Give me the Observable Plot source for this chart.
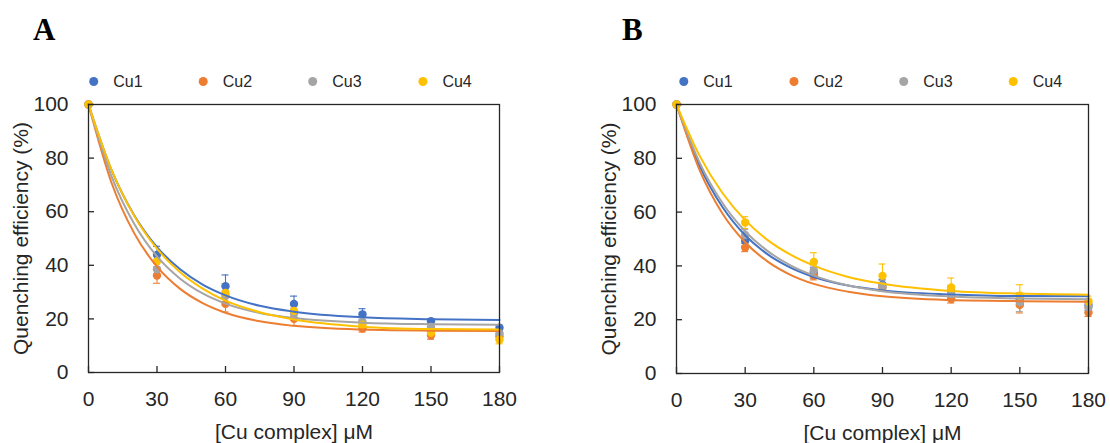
<!DOCTYPE html>
<html><head><meta charset="utf-8">
<script src="https://cdn.jsdelivr.net/npm/d3@7"></script>
<script src="https://cdn.jsdelivr.net/npm/@observablehq/plot@0.6"></script>
<style>
body{margin:0;background:#fff;}
#wrap{position:relative;width:1110px;height:443px;font-family:"Liberation Sans",Arial,sans-serif;background:#fff;overflow:hidden;}
.panel{position:absolute;top:0;}
#overlay{position:absolute;left:0;top:0;}
</style></head><body><div id="wrap"></div>
<script>
// ---------- data ----------
const concentrations = [0, 30, 60, 90, 120, 150, 180];
const seriesNames = ["Cu1", "Cu2", "Cu3", "Cu4"];
const seriesColors = ["#4472C4", "#ED7D31", "#A5A5A5", "#FFC000"];
const xTicks = [0, 30, 60, 90, 120, 150, 180];
const yTicks = [0, 20, 40, 60, 80, 100];
const panelLabels = ["A", "B"];
const xTitle = "[Cu complex] μM";
const yTitle = "Quenching efficiency (%)";

// Panel A: measured means and error bars
const a_Cu1 = [100, 43.9, 32.2, 25.6, 21.7, 19.1, 16.7];
const a_Cu2 = [100, 36.2, 25.6, 20.0, 16.4, 13.9, 13.5];
const a_Cu3 = [100, 38.5, 28.5, 22.0, 18.8, 17.0, 14.6];
const a_Cu4 = [100, 41.5, 29.7, 23.0, 17.8, 14.8, 12.2];
const a_err_Cu1 = [0, 3.2, 4.2, 2.9, 2.1, 1.0, 1.0];
const a_err_Cu2 = [0, 2.9, 3.0, 2.5, 1.3, 1.5, 1.0];
const a_err_Cu3 = [0, 2.5, 2.0, 2.0, 1.5, 1.0, 1.0];
const a_err_Cu4 = [0, 2.0, 3.5, 2.0, 1.5, 1.0, 1.5];

// Panel B: measured means and error bars
const b_Cu1 = [100, 49.3, 37.5, 33.0, 30.5, 27.5, 25.5];
const b_Cu2 = [100, 46.8, 36.3, 32.0, 27.7, 25.5, 22.7];
const b_Cu3 = [100, 51.5, 38.3, 32.6, 29.5, 26.5, 24.6];
const b_Cu4 = [100, 56.1, 41.5, 36.3, 32.0, 28.9, 26.8];
const b_err_Cu1 = [0, 2, 2, 2, 2, 2, 2];
const b_err_Cu2 = [0, 1.5, 1.5, 1.5, 1.5, 3, 1.5];
const b_err_Cu3 = [0, 2, 2, 2, 2, 3.5, 2];
const b_err_Cu4 = [0, 2.2, 3.4, 4.4, 3.5, 4.1, 2];

// Fitted curves
const fitX = [0, 10, 20, 30, 40, 50, 60, 75, 90, 120, 150, 180];
const a_fit_Cu1 = [100, 75.7, 58.7, 46.8, 38.6, 32.8, 28.8, 24.9, 22.7, 20.6, 19.9, 19.6];
const a_fit_Cu2 = [100, 71.0, 52.0, 39.5, 31.3, 25.9, 22.3, 19.1, 17.4, 16.0, 15.6, 15.5];
const a_fit_Cu3 = [100, 73.4, 55.5, 43.3, 35.1, 29.5, 25.7, 22.2, 20.3, 18.6, 18.0, 17.8];
const a_fit_Cu4 = [100, 75.8, 58.5, 46.2, 37.5, 31.3, 26.8, 22.5, 19.8, 17.1, 16.2, 16.0];
const b_fit_Cu1 = [100, 77.4, 62.0, 51.4, 44.2, 39.3, 35.9, 32.7, 30.9, 29.4, 28.8, 28.7];
const b_fit_Cu2 = [100, 75.8, 59.6, 48.8, 41.5, 36.6, 33.3, 30.4, 28.7, 27.3, 26.9, 26.7];
const b_fit_Cu3 = [100, 78.6, 63.5, 52.9, 45.4, 40.1, 36.4, 32.7, 30.6, 28.6, 27.9, 27.6];
const b_fit_Cu4 = [100, 81.1, 67.2, 57.0, 49.5, 44.1, 40.1, 35.9, 33.4, 30.7, 29.7, 29.3];

// ---------- build tables ----------
function buildPoints(means, errs) {
  const out = [];
  seriesNames.forEach((s, i) => {
    concentrations.forEach((x, j) => {
      out.push({series: s, x, y: means[i][j], e: errs[i][j], lo: means[i][j] - errs[i][j], hi: means[i][j] + errs[i][j]});
    });
  });
  return out;
}
function buildFits(fits) {
  const out = [];
  seriesNames.forEach((s, i) => fitX.forEach((x, j) => out.push({series: s, x, y: fits[i][j]})));
  return out;
}
const panels = [
  {
    points: buildPoints([a_Cu1, a_Cu2, a_Cu3, a_Cu4], [a_err_Cu1, a_err_Cu2, a_err_Cu3, a_err_Cu4]),
    fits: buildFits([a_fit_Cu1, a_fit_Cu2, a_fit_Cu3, a_fit_Cu4]),
    left: 0, mLeft: 88, mRight: 56, mTop: 104, mBottom: 71
  },
  {
    points: buildPoints([b_Cu1, b_Cu2, b_Cu3, b_Cu4], [b_err_Cu1, b_err_Cu2, b_err_Cu3, b_err_Cu4]),
    fits: buildFits([b_fit_Cu1, b_fit_Cu2, b_fit_Cu3, b_fit_Cu4]),
    left: 555, mLeft: 121, mRight: 22, mTop: 104, mBottom: 70
  }
];

const wrap = document.getElementById("wrap");
const ink = "#262626";

panels.forEach(p => {
  const errPts = p.points.filter(d => d.e > 0);
  const chart = Plot.plot({
    width: 555, height: 443,
    marginLeft: p.mLeft, marginRight: p.mRight, marginTop: p.mTop, marginBottom: p.mBottom,
    style: {fontFamily: "'Liberation Sans', Arial, sans-serif", fontSize: "21px", color: ink, background: "transparent", overflow: "visible"},
    x: {domain: [0, 180]},
    y: {domain: [0, 100]},
    color: {domain: seriesNames, range: seriesColors},
    marks: [
      Plot.ruleX(errPts, {x: "x", y1: "lo", y2: "hi", stroke: "series", strokeWidth: 1.1}),
      Plot.ruleY(errPts, {y: "hi", x1: "x", x2: "x", insetLeft: -3.5, insetRight: -3.5, stroke: "series", strokeWidth: 1.1}),
      Plot.ruleY(errPts, {y: "lo", x1: "x", x2: "x", insetLeft: -3.5, insetRight: -3.5, stroke: "series", strokeWidth: 1.1}),
      Plot.dot(p.points, {x: "x", y: "y", fill: "series", r: 4.2}),
      Plot.line(p.fits, {x: "x", y: "y", z: "series", stroke: "series", strokeWidth: 2, curve: "monotone-x"}),
      Plot.frame({stroke: ink, strokeWidth: 1.3}),
      Plot.axisY({ticks: yTicks, tickSize: 6, dx: 6, tickFormat: () => "", label: null, stroke: ink, strokeWidth: 1.3}),
      Plot.axisX({ticks: xTicks, tickSize: 6, dy: -6, tickFormat: () => "", label: null, stroke: ink, strokeWidth: 1.3}),
      Plot.axisY({ticks: yTicks, tickSize: 0, tickPadding: 20, fontSize: 21, fill: ink,
        label: yTitle, labelAnchor: "center", labelOffset: 75, labelArrow: "none"}),
      Plot.axisX({ticks: xTicks, tickSize: 0, tickPadding: 19, fontSize: 21, fill: ink,
        label: xTitle, labelAnchor: "center", labelOffset: 66, labelArrow: "none"})
    ]
  });
  chart.classList.add("panel");
  chart.style.left = p.left + "px";
  wrap.appendChild(chart);
});

// ---------- overlay: panel letters and legends ----------
const ns = "http://www.w3.org/2000/svg";
const ov = document.createElementNS(ns, "svg");
ov.setAttribute("id", "overlay");
ov.setAttribute("width", 1110);
ov.setAttribute("height", 443);
wrap.appendChild(ov);
const letterPos = [[33, 39.5], [622, 40]];
panelLabels.forEach((t, i) => {
  const el = document.createElementNS(ns, "text");
  el.setAttribute("x", letterPos[i][0]);
  el.setAttribute("y", letterPos[i][1]);
  el.setAttribute("font-family", "'Liberation Serif', 'Times New Roman', serif");
  el.setAttribute("font-weight", "bold");
  el.setAttribute("font-size", 31);
  el.setAttribute("fill", "#000");
  el.textContent = t;
  ov.appendChild(el);
});
const legendDots = [[93.7, 203.2, 312.7, 422.9], [683.8, 794, 903.7, 1013.2]];
legendDots.forEach(row => {
  row.forEach((cx, i) => {
    const c = document.createElementNS(ns, "circle");
    c.setAttribute("cx", cx); c.setAttribute("cy", 81.5); c.setAttribute("r", 4.5);
    c.setAttribute("fill", seriesColors[i]);
    ov.appendChild(c);
    const t = document.createElementNS(ns, "text");
    t.setAttribute("x", cx + 19.5); t.setAttribute("y", 81.5);
    t.setAttribute("dy", "0.36em");
    t.setAttribute("font-family", "'Liberation Sans', Arial, sans-serif");
    t.setAttribute("font-size", 16);
    t.setAttribute("fill", ink);
    t.textContent = seriesNames[i];
    ov.appendChild(t);
  });
});
</script></body></html>
